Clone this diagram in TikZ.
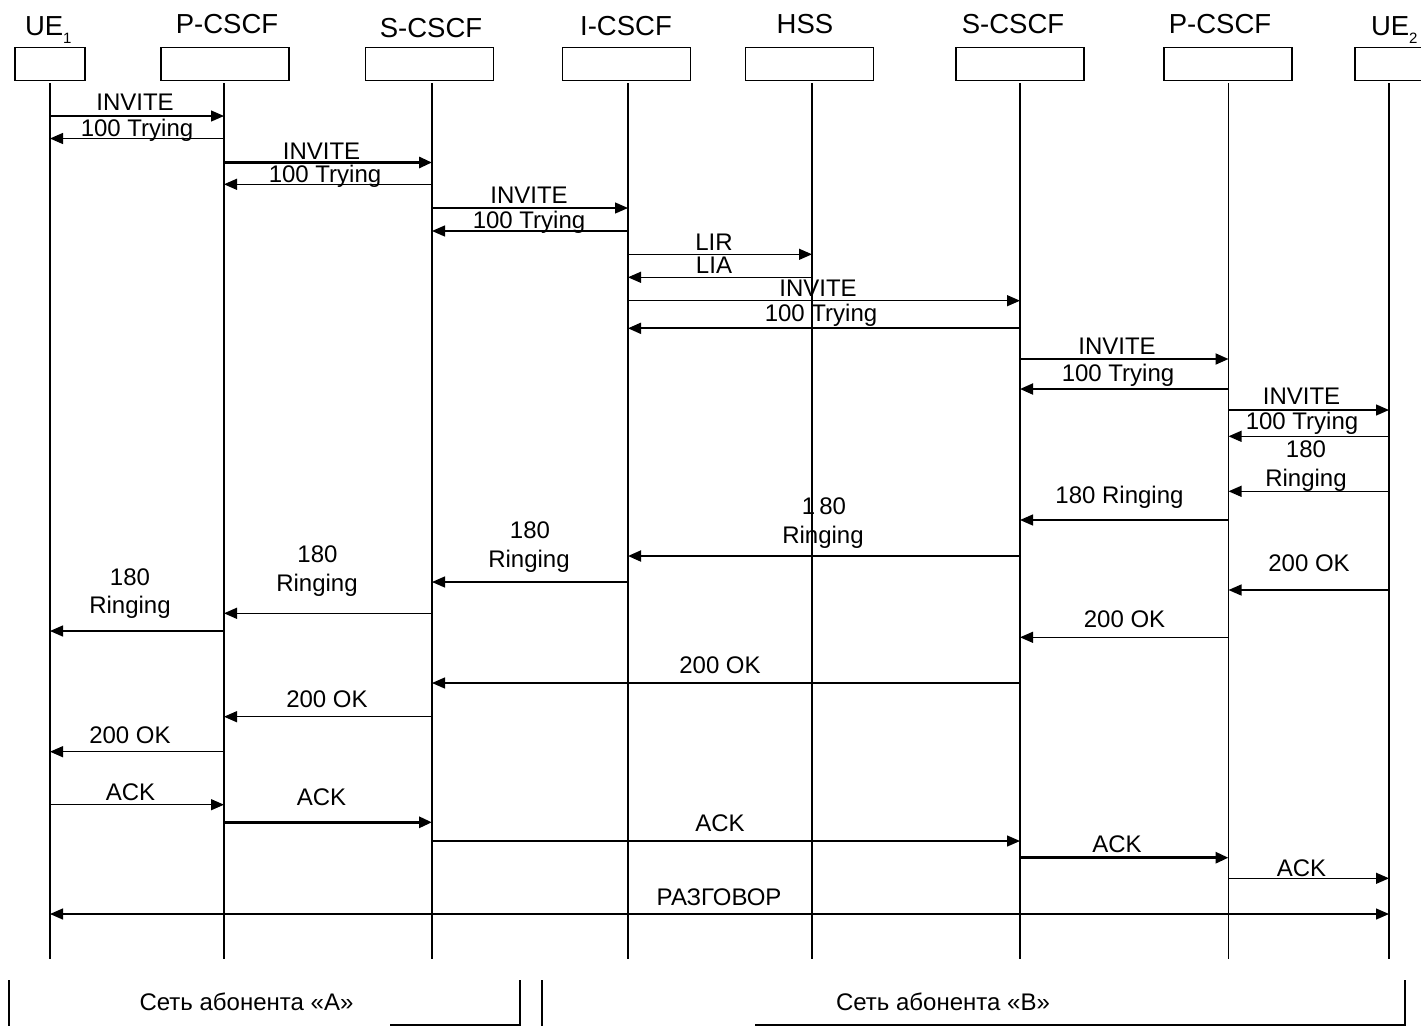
\documentclass[tikz,border=0pt]{standalone}
\usepackage{fontspec}
\setmainfont{Liberation Sans}
\usetikzlibrary{arrows.meta}
\begin{document}
\begin{tikzpicture}[x=1pt,y=-1pt,
  every node/.style={inner sep=0pt,outer sep=0pt},
  ent/.style={draw,line width=1.3pt,minimum height=33pt,minimum width=128pt},
  life/.style={line width=1.3pt},
  msg/.style={line width=1.3pt,line cap=butt,-{Triangle[length=13pt,width=11pt]}},
  msgboth/.style={line width=1.3pt,{Triangle[length=13pt,width=11pt]}-{Triangle[length=13pt,width=11pt]}},
  msgb/.style={msg,line width=3pt},
  msgm/.style={msg,line width=1.9pt},
  lbl/.style={anchor=base,font=\fontsize{24}{28}\selectfont},
  hdr/.style={anchor=base,font=\fontsize{27.5}{32}\selectfont},
  net/.style={anchor=base,font=\fontsize{24}{28}\selectfont},
  brk/.style={line width=1.3pt}]
\useasboundingbox (0,0) rectangle (1421,1026);

% entity boxes
\node[ent,minimum width=70pt] (ue1) at (50,64) {};
\node[ent] (pa) at (225,64) {};
\node[ent] (sa) at (429.5,64) {};
\node[ent] (ic) at (626.5,64) {};
\node[ent] (hss) at (809.5,64) {};
\node[ent] (sb) at (1020,64) {};
\node[ent] (pb) at (1228,64) {};
\node[ent,minimum width=70pt] (ue2) at (1390,64) {};

% headers
\node[hdr,anchor=base west] (tue1) at (25,35) {UE\raisebox{-8pt}{\fontsize{15}{15}\selectfont 1}};
\node[hdr] (tpa) at (227,33) {P-CSCF};
\node[hdr] (tsa) at (431,37) {S-CSCF};
\node[hdr] (tic) at (626,35) {I-CSCF};
\node[hdr] (thss) at (805,33) {HSS};
\node[hdr] (tsb) at (1013,33) {S-CSCF};
\node[hdr] (tpb) at (1220,33) {P-CSCF};
\node[hdr,anchor=base west] (tue2) at (1371,35) {UE\raisebox{-8pt}{\fontsize{15}{15}\selectfont 2}};

% lifelines
\foreach \n/\x in {ue1/50,pa/224,sa/432,ic/628,hss/812,sb/1020,pb/1228.5,ue2/1389}{
  \coordinate (L\n) at (\x,83);
  \coordinate (E\n) at (\x,959);
  \draw[life] (L\n) -- (E\n);
}

% messages
\draw[msg] (Lue1 |- 0,116) -- (Lpa |- 0,116);
\node[lbl] (m1) at (135,110.5) {INVITE};
\draw[msg] (Lpa |- 0,138.5) -- (Lue1 |- 0,138.5);
\node[lbl] (m2) at (137,136.5) {100 Trying};
\draw[msgb] (Lpa |- 0,162.5) -- (Lsa |- 0,162.5);
\node[lbl] (m3) at (321.5,159) {INVITE};
\draw[msg] (Lsa |- 0,184.3) -- (Lpa |- 0,184.3);
\node[lbl] (m4) at (325,182.3) {100 Trying};
\draw[msg] (Lsa |- 0,208) -- (Lic |- 0,208);
\node[lbl] (m5) at (529,203.5) {INVITE};
\draw[msg] (Lic |- 0,231) -- (Lsa |- 0,231);
\node[lbl] (m6) at (529,228) {100 Trying};
\draw[msg] (Lic |- 0,254.3) -- (Lhss |- 0,254.3);
\node[lbl] (m7) at (714,250.7) {LIR};
\draw[msg] (Lhss |- 0,277.3) -- (Lic |- 0,277.3);
\node[lbl] (m8) at (714,273.3) {LIA};
\draw[msg] (Lic |- 0,300.7) -- (Lsb |- 0,300.7);
\node[lbl] (m9) at (818,296.7) {INVITE};
\draw[msgm] (Lsb |- 0,328.3) -- (Lic |- 0,328.3);
\node[lbl] (m10) at (821,321.7) {100 Trying};
\draw[msgm] (Lsb |- 0,359) -- (Lpb |- 0,359);
\node[lbl] (m11) at (1117,354.3) {INVITE};
\draw[msgm] (Lpb |- 0,389) -- (Lsb |- 0,389);
\node[lbl] (m12) at (1118,381.7) {100 Trying};
\draw[msg] (Lpb |- 0,410) -- (Lue2 |- 0,410);
\node[lbl] (m13) at (1301.5,404) {INVITE};
\draw[msg] (Lue2 |- 0,436.3) -- (Lpb |- 0,436.3);
\node[lbl] (m14) at (1302,429.3) {100 Trying};
\draw[msg] (Lue2 |- 0,491.3) -- (Lpb |- 0,491.3);
\node[lbl] (m15a) at (1306,457.7) {180};
\node[lbl] (m15b) at (1306,486.7) {Ringing};
\draw[msg] (Lpb |- 0,520) -- (Lsb |- 0,520);
\node[lbl] (m16) at (1119.5,503.3) {180 Ringing};
\draw[msgm] (Lsb |- 0,556) -- (Lic |- 0,556);
\node[lbl] (m17a) at (824,514.3) {1\,80};
\node[lbl] (m17b) at (823,543.3) {Ringing};
\draw[msg] (Lic |- 0,582) -- (Lsa |- 0,582);
\node[lbl] (m18a) at (530,538.5) {180};
\node[lbl] (m18b) at (529,567.5) {Ringing};
\draw[msg] (Lsa |- 0,613.3) -- (Lpa |- 0,613.3);
\node[lbl] (m19a) at (317.5,562.3) {180};
\node[lbl] (m19b) at (317,591) {Ringing};
\draw[msg] (Lpa |- 0,631) -- (Lue1 |- 0,631);
\node[lbl] (m20a) at (130,585) {180};
\node[lbl] (m20b) at (130,613.3) {Ringing};
\draw[msg] (Lue2 |- 0,590) -- (Lpb |- 0,590);
\node[lbl] (m21) at (1309,571) {200 OK};
\draw[msg] (Lpb |- 0,637.3) -- (Lsb |- 0,637.3);
\node[lbl] (m22) at (1124.5,627.3) {200 OK};
\draw[msg] (Lsb |- 0,683) -- (Lsa |- 0,683);
\node[lbl] (m23) at (720,673.5) {200 OK};
\draw[msg] (Lsa |- 0,716.7) -- (Lpa |- 0,716.7);
\node[lbl] (m24) at (327,707.7) {200 OK};
\draw[msg] (Lpa |- 0,751.7) -- (Lue1 |- 0,751.7);
\node[lbl] (m25) at (130,743.3) {200 OK};
\draw[msg] (Lue1 |- 0,804.7) -- (Lpa |- 0,804.7);
\node[lbl] (m26) at (130.5,800) {ACK};
\draw[msgb] (Lpa |- 0,822.3) -- (Lsa |- 0,822.3);
\node[lbl] (m27) at (321.5,805.7) {ACK};
\draw[msg] (Lsa |- 0,841) -- (Lsb |- 0,841);
\node[lbl] (m28) at (720,831.7) {ACK};
\draw[msgb] (Lsb |- 0,857.7) -- (Lpb |- 0,857.7);
\node[lbl] (m29) at (1117,852.7) {ACK};
\draw[msg] (Lpb |- 0,878.3) -- (Lue2 |- 0,878.3);
\node[lbl] (m30) at (1301.5,876) {ACK};
\draw[msgboth] (Lue1 |- 0,914) -- (Lue2 |- 0,914);
\node[lbl] (m31) at (719,905) {РАЗГОВОР};

% network brackets
\draw[brk] (9,980) -- (9,1026);
\draw[brk] (390,1025) -- (520,1025) -- (520,980);
\draw[brk] (542,980) -- (542,1026);
\draw[brk] (755,1025) -- (1405,1025) -- (1405,980);
\node[net] (na) at (246.5,1010) {Сеть абонента «А»};
\node[net] (nb) at (943,1010) {Сеть абонента «В»};
\end{tikzpicture}
\end{document}
